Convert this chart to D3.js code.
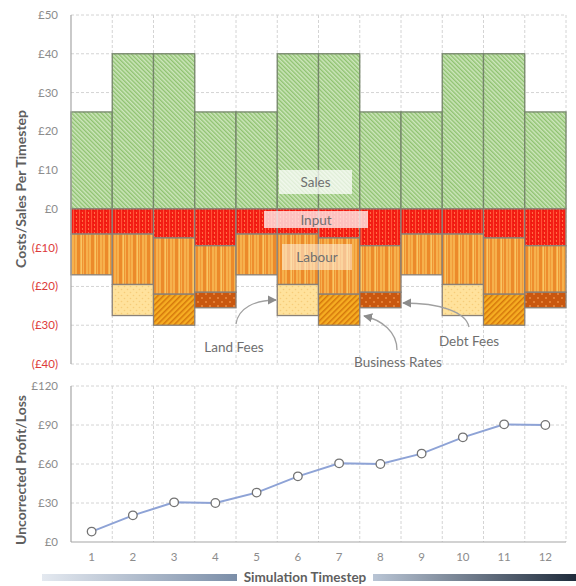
<!DOCTYPE html>
<html><head><meta charset="utf-8">
<script src="https://cdn.jsdelivr.net/npm/d3@7"></script>
<style>body{margin:0;background:#fff}svg{display:block}text{font-family:Lato,"Open Sans",sans-serif}</style>
</head><body>
<script>
const timesteps = [1,2,3,4,5,6,7,8,9,10,11,12];
const sales    = [25,40,40,25,25,40,40,25,25,40,40,25];
const input    = [6.5,6.5,7.5,9.5,6.5,6.5,7.5,9.5,6.5,6.5,7.5,9.5];
const labour   = [10.5,13,14.5,12,10.5,13,14.5,12,10.5,13,14.5,12];
const landFees = [0,8,0,0,0,8,0,0,0,8,0,0];
const bizRates = [0,0,8,0,0,0,8,0,0,0,8,0];
const debtFees = [0,0,0,4,0,0,0,4,0,0,0,4];
const profit   = [8,20.5,30.5,30,38,50.5,60.5,60,68,80.5,90.5,90];
const topTicks = [-40,-30,-20,-10,0,10,20,30,40,50];
const botTicks = [0,30,60,90,120];

const W=576,H=586;
const svg=d3.select("body").append("svg").attr("width",W).attr("height",H);
const defs=svg.append("defs");

function stripes(id,bg,fg,w,gap,rot){
  const p=defs.append("pattern").attr("id",id).attr("patternUnits","userSpaceOnUse")
    .attr("width",gap).attr("height",gap).attr("patternTransform",`rotate(${rot})`);
  p.append("rect").attr("width",gap).attr("height",gap).attr("fill",bg);
  p.append("rect").attr("width",w).attr("height",gap).attr("fill",fg);
}
stripes("pSales","#cde6bc","#8fc270",1.4,3,-45);
stripes("pBiz","#f6ad22","#d5770b",1.5,4,45);
(function(){
  const p=defs.append("pattern").attr("id","pInput").attr("patternUnits","userSpaceOnUse").attr("width",6).attr("height",4);
  p.append("rect").attr("width",6).attr("height",4).attr("fill","#f41e14");
  p.append("rect").attr("x",1).attr("width",1).attr("height",4).attr("fill","#ff5236");
  p.append("rect").attr("x",4).attr("width",1).attr("height",2).attr("fill","#ff6e44");
  p.append("rect").attr("x",3).attr("y",2).attr("width",1).attr("height",1).attr("fill","#e8140c");
})();
(function(){
  const p=defs.append("pattern").attr("id","pLabour").attr("patternUnits","userSpaceOnUse").attr("width",14).attr("height",4);
  p.append("rect").attr("width",14).attr("height",4).attr("fill","#f6b14d");
  [[0,2,"#ee8d2e"],[4,1,"#f19a38"],[7,3,"#ec8a2a"],[11,1,"#f9c564"],[12,1,"#ef9433"]].forEach(([x,w,c])=>
    p.append("rect").attr("x",x).attr("width",w).attr("height",4).attr("fill",c));
})();
function dots(id,bg,fg,s,r){
  const p=defs.append("pattern").attr("id",id).attr("patternUnits","userSpaceOnUse").attr("width",s).attr("height",s);
  p.append("rect").attr("width",s).attr("height",s).attr("fill",bg);
  p.append("circle").attr("cx",s/4).attr("cy",s/4).attr("r",r).attr("fill",fg);
  p.append("circle").attr("cx",s*3/4).attr("cy",s*3/4).attr("r",r).attr("fill",fg);
}
dots("pLand","#ffe29c","#f6cd7a",6,0.8);
dots("pDebt","#c9570f","#ee8a3f",8,1);
const mk=defs.append("marker").attr("id","arr").attr("viewBox","0 0 10 10").attr("refX",9).attr("refY",5)
  .attr("markerWidth",7).attr("markerHeight",7).attr("orient","auto-start-reverse");
mk.append("path").attr("d","M0,0L10,5L0,10z").attr("fill","#8c8c8c");

const x=d3.scaleBand().domain(timesteps).range([71,566]).padding(0);
const yT=d3.scaleLinear().domain([-40,50]).range([364,15]);
const yB=d3.scaleLinear().domain([0,120]).range([542,386]);
const grid="#d4d4d4";

// ---------- top chart ----------
const gT=svg.append("g");
gT.selectAll(".hg").data(topTicks).join("line").attr("x1",71).attr("x2",566)
  .attr("y1",d=>yT(d)).attr("y2",d=>yT(d)).attr("stroke",grid).attr("stroke-dasharray","3,2");
gT.selectAll(".vg").data(timesteps).join("line").attr("x1",d=>x(d)+x.bandwidth()).attr("x2",d=>x(d)+x.bandwidth())
  .attr("y1",15).attr("y2",364).attr("stroke",grid).attr("stroke-dasharray","3,2");

const series=[
  {k:"input",v:input,f:"url(#pInput)"},
  {k:"labour",v:labour,f:"url(#pLabour)"},
  {k:"land",v:landFees,f:"url(#pLand)"},
  {k:"biz",v:bizRates,f:"url(#pBiz)"},
  {k:"debt",v:debtFees,f:"url(#pDebt)"}
];
const rects=[];
timesteps.forEach((t,i)=>{
  rects.push({t,y0:0,y1:sales[i],f:"url(#pSales)",s:"#75856a"});
  let acc=0;
  series.forEach(s=>{
    const v=s.v[i];
    if(v>0){rects.push({t,y0:-acc,y1:-(acc+v),f:s.f,s:"#8a8178"});acc+=v;}
  });
});
gT.selectAll(".bar").data(rects).join("rect")
  .attr("x",d=>x(d.t)).attr("width",x.bandwidth())
  .attr("y",d=>yT(Math.max(d.y0,d.y1))).attr("height",d=>Math.abs(yT(d.y0)-yT(d.y1)))
  .attr("fill",d=>d.f).attr("stroke",d=>d.s).attr("stroke-width",1.3);

gT.append("line").attr("x1",71).attr("x2",71).attr("y1",15).attr("y2",364).attr("stroke","#a6a6a6").attr("stroke-width",1.2);
gT.selectAll(".tl").data(topTicks).join("text").attr("x",58).attr("y",d=>yT(d)+4).attr("text-anchor","end")
  .attr("font-size",11.5).attr("fill",d=>d<0?"#dd3a3a":"#8c8c8c").text(d=>d<0?`(£${-d})`:`£${d}`);

[{t:"Sales",x:279,y:170,w:73,h:24,c:"rgba(255,255,255,0.72)"},
 {t:"Input",x:264,y:211,w:104,h:17,c:"rgba(255,235,235,0.8)"},
 {t:"Labour",x:282,y:244,w:70,h:26,c:"rgba(255,240,225,0.55)"}].forEach(b=>{
  gT.append("rect").attr("x",b.x).attr("y",b.y).attr("width",b.w).attr("height",b.h).attr("fill",b.c);
  gT.append("text").attr("x",b.x+b.w/2).attr("y",b.y+b.h/2+5).attr("text-anchor","middle")
    .attr("font-size",13.5).attr("fill","#707070").text(b.t);
});

const ann=[
  {t:"Land Fees",tx:234,ty:352,p:"M236,324 C238,308 255,300 276,300"},
  {t:"Business Rates",tx:398,ty:367,p:"M397,350 C397,332 382,320 364,316"},
  {t:"Debt Fees",tx:469,ty:346,p:"M469,327 C466,312 440,303 403,303"}
];
ann.forEach(a=>{
  gT.append("path").attr("d",a.p).attr("fill","none").attr("stroke","#a0a0a0").attr("stroke-width",1.3).attr("marker-end","url(#arr)");
  gT.append("text").attr("x",a.tx).attr("y",a.ty).attr("text-anchor","middle").attr("font-size",13.5).attr("fill","#6f6f6f").text(a.t);
});
svg.append("text").attr("transform","translate(26,189) rotate(-90)").attr("text-anchor","middle")
  .attr("font-size",14).attr("font-weight","bold").attr("fill","#5f5f5f").text("Costs/Sales Per Timestep");

// ---------- bottom chart ----------
const gB=svg.append("g");
gB.selectAll(".hg").data(botTicks.slice(1)).join("line").attr("x1",71).attr("x2",566)
  .attr("y1",d=>yB(d)).attr("y2",d=>yB(d)).attr("stroke",grid).attr("stroke-dasharray","3,2");
gB.selectAll(".vg").data(timesteps).join("line").attr("x1",d=>x(d)+x.bandwidth()).attr("x2",d=>x(d)+x.bandwidth())
  .attr("y1",386).attr("y2",542).attr("stroke",grid).attr("stroke-dasharray","3,2");
gB.append("line").attr("x1",71).attr("x2",71).attr("y1",386).attr("y2",542).attr("stroke","#a6a6a6").attr("stroke-width",1.2);
gB.append("line").attr("x1",71).attr("x2",566).attr("y1",542).attr("y2",542).attr("stroke","#a6a6a6").attr("stroke-width",1.2);
gB.selectAll(".tl").data(botTicks).join("text").attr("x",58).attr("y",d=>yB(d)+4).attr("text-anchor","end")
  .attr("font-size",11.5).attr("fill","#8c8c8c").text(d=>`£${d}`);
gB.selectAll(".xl").data(timesteps).join("text").attr("x",d=>x(d)+x.bandwidth()/2).attr("y",561).attr("text-anchor","middle")
  .attr("font-size",11.5).attr("fill","#8c8c8c").text(d=>d);
const cx=d=>x(d)+x.bandwidth()/2;
gB.append("path").datum(profit).attr("fill","none").attr("stroke","#8ea3d6").attr("stroke-width",2)
  .attr("d",d3.line().x((d,i)=>cx(timesteps[i])).y(d=>yB(d)));
gB.selectAll(".pt").data(profit).join("circle").attr("cx",(d,i)=>cx(timesteps[i])).attr("cy",d=>yB(d)).attr("r",4.3)
  .attr("fill","#fff").attr("stroke","#737373").attr("stroke-width",1.3);
svg.append("text").attr("transform","translate(26,470) rotate(-90)").attr("text-anchor","middle")
  .attr("font-size",14).attr("font-weight","bold").attr("fill","#5f5f5f").text("Uncorrected Profit/Loss");

function grad(id,c0,c1){const g=defs.append("linearGradient").attr("id",id);
  g.append("stop").attr("offset","0%").attr("stop-color",c0);g.append("stop").attr("offset","100%").attr("stop-color",c1);}
grad("gL","#e4e9f0","#7b8ea8");grad("gR","#b9c5d5","#1f2b3b");
svg.append("rect").attr("x",42).attr("y",574).attr("width",195).attr("height",7).attr("fill","url(#gL)");
svg.append("rect").attr("x",373).attr("y",574).attr("width",203).attr("height",7).attr("fill","url(#gR)");
svg.append("text").attr("x",305).attr("y",582).attr("text-anchor","middle").attr("font-size",13.5)
  .attr("font-weight","bold").attr("fill","#5f5f5f").text("Simulation Timestep");
</script>
</body></html>
